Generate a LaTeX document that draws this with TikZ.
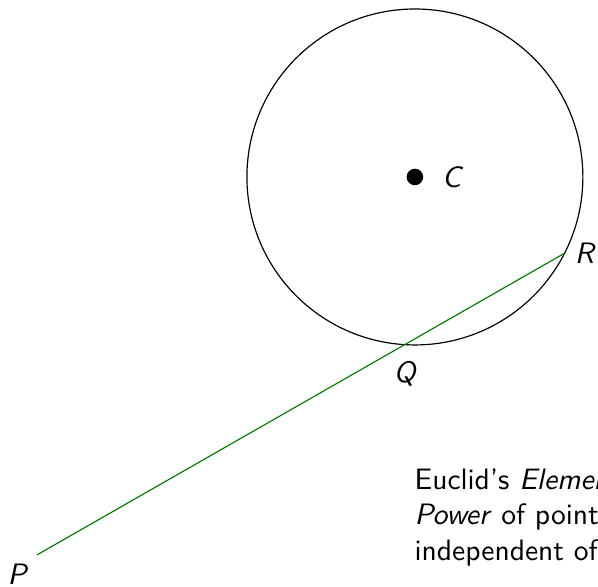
\documentclass[tikz,border=0pt]{standalone}
\usetikzlibrary{positioning, calc}
\renewcommand{\familydefault}{\sfdefault}

\begin{document}
\begin{tikzpicture}[
  ptlbl/.style={font=\itshape},
  secant/.style={green!50!black},
  note/.style={align=left, anchor=north west, inner sep=0pt},
]
\useasboundingbox (-4.94,-4.88) rectangle (2.18,2.107);

% Circle and its centre
\coordinate (C) at (0,0);
\draw (C) circle (2cm);
\fill (C) circle (2.8pt);
\node[ptlbl, right=0.2cm of C] (Clbl) {C};

% Secant from P through Q to R
\coordinate (P) at (-4.5,-4.5);
\coordinate (R) at (-27:2cm);
\coordinate (Q) at ($(P)!0.697!(R)$);
\draw[secant] (P) -- (R);

\node[ptlbl, right=0pt of R] (Rlbl) {R};
\node[ptlbl, below=0.08cm of Q] (Qlbl) {Q};
\node[ptlbl, below left=-0.02cm and 0pt of P] (Plbl) {P};

% Note
\node[note] (txt) at (-0.01,-3.47)
  {Euclid's \textit{Elements}\\
   \textit{Power} of point\\
   independent of};

\end{tikzpicture}
\end{document}
